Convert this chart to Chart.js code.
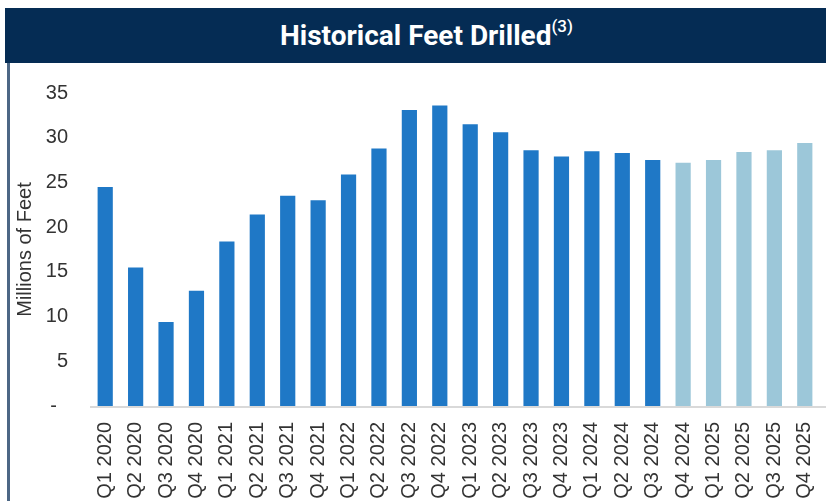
<!DOCTYPE html>
<html>
<head>
<meta charset="utf-8">
<script src="https://cdn.jsdelivr.net/npm/chart.js@4/dist/chart.umd.min.js"></script>
<style>
  html, body { margin: 0; padding: 0; background: #fff; }
  body { width: 826px; height: 501px; position: relative; overflow: hidden; }
  .header {
    position: absolute; left: 5px; top: 8px; width: 831px; height: 55px;
    background: #052c54; color: #fff;
    font-family: Roboto, "Noto Sans", sans-serif; font-weight: 700; font-size: 28px;
    display: flex; align-items: center; justify-content: center;
    box-sizing: border-box; padding-left: 12px;
  }
  .header sup { font-size: 17px; font-weight: 500; position: relative; top: -3px; }
  .frame {
    position: absolute; left: 7px; top: 63px; width: 819px; height: 438px;
    border-left: 3px solid #4d6785; box-sizing: border-box;
  }
  .chart-wrap { position: absolute; left: 10px; top: 63px; width: 816px; height: 438px; }
</style>
</head>
<body>
<div class="header"><span>Historical Feet Drilled<sup>(3)</sup></span></div>
<div class="frame"></div>
<div class="chart-wrap"><canvas id="chart"></canvas></div>
<script>
const quarters = [
  'Q1 2020', 'Q2 2020', 'Q3 2020', 'Q4 2020',
  'Q1 2021', 'Q2 2021', 'Q3 2021', 'Q4 2021',
  'Q1 2022', 'Q2 2022', 'Q3 2022', 'Q4 2022',
  'Q1 2023', 'Q2 2023', 'Q3 2023', 'Q4 2023',
  'Q1 2024', 'Q2 2024', 'Q3 2024', 'Q4 2024',
  'Q1 2025', 'Q2 2025', 'Q3 2025', 'Q4 2025'
];
// millions of feet; last 5 quarters are projections (lighter colour)
const feetDrilled = [
  24.5, 15.5, 9.4, 12.9,
  18.4, 21.4, 23.5, 23.0,
  25.9, 28.8, 33.1, 33.6,
  31.5, 30.6, 28.6, 27.9,
  28.5, 28.3, 27.5, 27.2,
  27.5, 28.4, 28.6, 29.4
];
const projectedFrom = 19;
const yTicks = [0, 5, 10, 15, 20, 25, 30, 35];

const colors = quarters.map((q, i) => i >= projectedFrom ? '#9cc7d9' : '#1f78c6');
const font = { family: '"Liberation Sans", Arial, sans-serif', size: 20 };

// baseline runs past the last bar to the edge of the panel
const baseline = {
  id: 'baseline',
  afterDraw(chart) {
    const { ctx, chartArea } = chart;
    ctx.save();
    ctx.strokeStyle = '#d9d9d9';
    ctx.lineWidth = 2;
    ctx.beginPath();
    ctx.moveTo(chartArea.left, chartArea.bottom + 1);
    ctx.lineTo(chart.width, chartArea.bottom + 1);
    ctx.stroke();
    ctx.restore();
  }
};

new Chart(document.getElementById('chart'), {
  type: 'bar',
  data: {
    labels: quarters,
    datasets: [{
      data: feetDrilled,
      backgroundColor: colors,
      borderWidth: 0,
      categoryPercentage: 1,
      barPercentage: 0.5
    }]
  },
  options: {
    responsive: true,
    maintainAspectRatio: false,
    animation: false,
    layout: { padding: { top: 30, right: 6, left: 0, bottom: 0 } },
    plugins: { legend: { display: false }, tooltip: { enabled: false } },
    scales: {
      x: {
        grid: { display: false, drawTicks: false },
        border: { display: false },
        ticks: {
          color: '#333', font: font,
          minRotation: 90, maxRotation: 90, autoSkip: false, padding: 16
        },
        afterFit(scale) {
          scale.height = 95;
          scale.paddingLeft = 0;
          scale.paddingRight = 0;
        }
      },
      y: {
        min: 0, max: 35,
        afterBuildTicks(scale) { scale.ticks = yTicks.map(v => ({ value: v })); },
        grid: { display: false, drawTicks: false },
        border: { display: false },
        ticks: {
          color: '#333', font: font, padding: 22,
          callback: v => v === 0 ? '-  ' : v
        },
        title: {
          display: true, text: 'Millions of Feet', color: '#333', font: font,
          padding: { top: 3, bottom: 0 }
        },
        afterFit(scale) {
          scale.width = 80;
          scale.paddingTop = 0;
          scale.paddingBottom = 0;
        }
      }
    }
  },
  plugins: [baseline]
});
</script>
</body>
</html>
